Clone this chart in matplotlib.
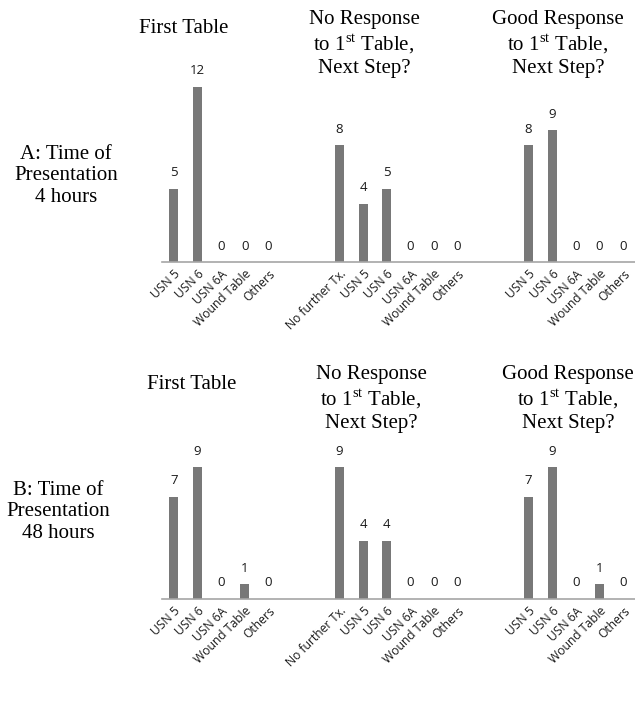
"""Bar panels: treatment tables chosen at 4 h and 48 h presentation."""
import matplotlib
matplotlib.use("Agg")
import matplotlib.pyplot as plt
import numpy as np

# categories per group (blank slots separate the three groups on one axis)
first_cats = ["USN 5", "USN 6", "USN 6A", "Wound Table", "Others"]
noresp_cats = ["No further Tx.", "USN 5", "USN 6", "USN 6A", "Wound Table", "Others"]
good_cats = ["USN 5", "USN 6", "USN 6A", "Wound Table", "Others"]

# row A: 4 hours
a_first = [5, 12, 0, 0, 0]
a_noresp = [8, 4, 5, 0, 0, 0]
a_good = [8, 9, 0, 0, 0]

# row B: 48 hours
b_first = [7, 9, 0, 1, 0]
b_noresp = [9, 4, 4, 0, 0, 0]
b_good = [7, 9, 0, 1, 0]

group_titles = ["First Table",
                "No Response\nto 1$^{\\mathregular{st}}$ Table,\nNext Step?",
                "Good Response\nto 1$^{\\mathregular{st}}$ Table,\nNext Step?"]
row_labels = ["A: Time of\nPresentation\n4 hours", "B: Time of\nPresentation\n48 hours"]

BAR = "#787878"
AXIS = "#a6a6a6"
GAP = 2

W, H = 635, 705
fig = plt.figure(figsize=(W / 100, H / 100), dpi=100)
plt.rcParams["mathtext.fontset"] = "custom"
plt.rcParams["mathtext.rm"] = "Liberation Serif"


def draw_row(baseline_px, groups, title_pos, label_xy, label):
    ax = fig.add_axes([162 / W, (H - baseline_px) / H, 473 / W, 190 / H])
    labels, values = [], []
    for i, (cats, vals) in enumerate(groups):
        if i > 0:
            labels += [""] * GAP
            values += [np.nan] * GAP
        labels += cats
        values += vals
    x = np.arange(len(labels))
    ax.bar(x, np.nan_to_num(values), width=0.38, color=BAR)
    for xi, v in zip(x, values):
        if not np.isnan(v):
            ax.text(xi, v + 0.65, f"{int(v)}", ha="center", va="bottom",
                    fontsize=9.5, family="Open Sans", color="#1a1a1a")
    ax.set_xlim(-0.5, len(labels) - 0.5)
    ax.set_ylim(0, 13)
    ax.set_xticks(x)
    ax.set_xticklabels(labels, rotation=45, ha="right", rotation_mode="anchor",
                       fontsize=8.7, family="Open Sans", color="#1a1a1a")
    ax.tick_params(axis="x", length=0, pad=4)
    ax.set_yticks([])
    for s in ["top", "right", "left"]:
        ax.spines[s].set_visible(False)
    ax.spines["bottom"].set_color(AXIS)
    ax.spines["bottom"].set_linewidth(1.2)
    # group titles
    for title, (tx, ty) in zip(group_titles, title_pos):
        fig.text(tx / W, 1 - ty / H, title, ha="center", va="top",
                 fontsize=15, family="Liberation Serif", linespacing=1.18)
    fig.text(label_xy[0] / W, 1 - label_xy[1] / H, label, ha="center", va="center",
             fontsize=15, family="Liberation Serif", linespacing=1.15)


draw_row(262, [(first_cats, a_first), (noresp_cats, a_noresp), (good_cats, a_good)],
         [(184, 19), (364, 10), (558, 10)], (66, 176), row_labels[0])
draw_row(599, [(first_cats, b_first), (noresp_cats, b_noresp), (good_cats, b_good)],
         [(192, 375), (371, 365), (568, 365)], (58, 512), row_labels[1])

fig.savefig("out.png", dpi=100)
